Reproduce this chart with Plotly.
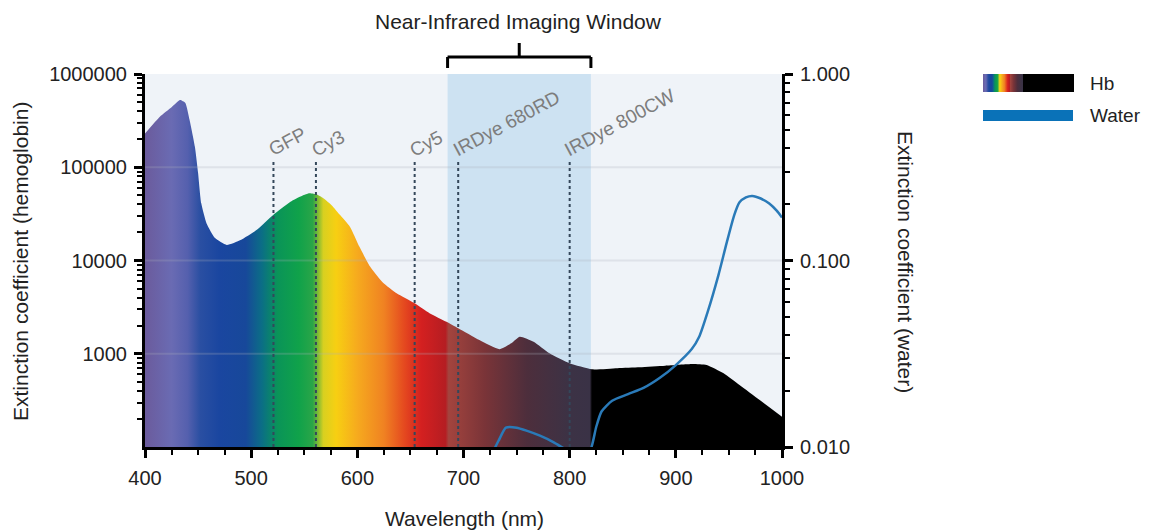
import plotly.graph_objects as go

# ---------------- data ----------------
hb_nm = [400, 414, 425, 433, 438, 442, 447, 450, 453, 458, 466, 477, 490, 505, 521,
         537, 548, 555, 562, 568, 576, 584, 593, 602, 612, 624, 637, 654, 668, 684,
         695, 715, 734, 745, 753, 766, 781, 800, 821, 845, 866, 890, 916, 929, 945,
         960, 979, 1000]
hb_val = [230000, 348000, 440000, 526000, 489000, 321000, 166000, 87000, 41000, 25000,
          17400, 14700, 16600, 21200, 31000, 42700, 49500, 52600, 51000, 46500, 39000,
          30500, 23000, 14000, 8600, 5800, 4450, 3470, 2720, 2200, 1875, 1400, 1117,
          1295, 1523, 1347, 1012, 789, 680, 700, 716, 745, 776, 757, 617, 462, 319, 211]

water_nm = [726, 733, 740, 750, 760, 772, 785, 795, 805, 815, 820, 825, 830, 840, 855,
            870, 885, 900, 915, 922, 930, 940, 948, 955, 960, 966, 972, 980, 988, 995, 1000]
water_val = [0.0090, 0.0108, 0.0127, 0.0127, 0.0122, 0.0115, 0.0106, 0.0098, 0.0092,
             0.0092, 0.0098, 0.0128, 0.0155, 0.0177, 0.0192, 0.0208, 0.0235, 0.0275,
             0.0335, 0.0390, 0.0530, 0.0830, 0.125, 0.175, 0.205, 0.218, 0.222, 0.215,
             0.202, 0.185, 0.170]

dye_names = ["GFP", "Cy3", "Cy5", "IRDye 680RD", "IRDye 800CW"]
dye_nm = [521, 561, 654, 695, 800]
dye_line_top = 115000

window_nm = [685, 820]
window_title = "Near-Infrared Imaging Window"

x_ticks = [400, 500, 600, 700, 800, 900, 1000]
y_ticks = [1000, 10000, 100000, 1000000]
y_ticklabels = ["1000", "10000", "100000", "1000000"]
y2_ticks = [0.01, 0.1, 1.0]
y2_ticklabels = ["0.010", "0.100", "1.000"]
grid_vals = [1000, 10000, 100000]

# spectrum colours along wavelength
spec_nm = [400, 425, 440, 452, 470, 495, 510, 525, 545, 558, 568, 580, 600, 625, 645,
           660, 683, 686, 720, 760, 800, 819, 821, 1000]
spec_col = ["#6b5b9c", "#6a6bb3", "#5560ae", "#2a4fa2", "#1a46a0", "#17489a", "#0b6e86",
            "#0a9458", "#10a24a", "#2aa548", "#d8d020", "#f7cf12", "#f6aa1e", "#f08222",
            "#e4471f", "#d42020", "#b51d22", "#a3443e", "#7a3438", "#4d2e3c", "#3c3245",
            "#3a3246", "#000000", "#000000"]

FONT = "Liberation Sans, Arial, sans-serif"
TXT = "#222222"

scale = [[(n - 400) / 600, c] for n, c in zip(spec_nm, spec_col)]

# page offset (body margin) compensation; reference pixel coords used below
OFF = 8
W, H = 1149 - OFF, 531 - OFF
L, T = 145 - OFF, 74 - OFF
R = W - (1075 - OFF)
B = H - (447 - OFF)
PW = W - L - R
PH = H - T - B
def px(x):
    return (x - OFF - L) / PW
def py(y):
    return (H - B - (y - OFF)) / PH

fig = go.Figure()

# Hb filled curve
fig.add_trace(go.Scatter(
    x=hb_nm, y=hb_val, mode="lines", line=dict(width=0, shape="spline", smoothing=0.5),
    fill="tozeroy", fillgradient=dict(type="horizontal", colorscale=scale, start=400, stop=1000),
    hoverinfo="skip", showlegend=False, xaxis="x", yaxis="y"))

# gridlines over the fill
for g in grid_vals:
    fig.add_trace(go.Scatter(x=[400, 1000], y=[g, g], mode="lines",
                             line=dict(color="rgba(170,176,186,0.25)", width=2),
                             hoverinfo="skip", showlegend=False))

# dye dotted lines
for n in dye_nm:
    fig.add_trace(go.Scatter(x=[n, n], y=[100, dye_line_top], mode="lines",
                             line=dict(color="#34475a", width=2, dash="dot"),
                             hoverinfo="skip", showlegend=False))

# water curve
fig.add_trace(go.Scatter(x=water_nm, y=water_val, mode="lines",
                         line=dict(color="#2a7ab8", width=2.5, shape="spline", smoothing=0.6),
                         hoverinfo="skip", showlegend=False, xaxis="x", yaxis="y2"))

# legend swatch (gradient) on its own small axes
fig.add_trace(go.Scatter(x=[400, 1355, 1355, 400, 400], y=[0, 0, 1, 1, 0], mode="lines",
                         line=dict(width=0), fill="toself",
                         fillgradient=dict(type="horizontal", colorscale=scale, start=400, stop=1000),
                         hoverinfo="skip", showlegend=False, xaxis="x3", yaxis="y3"))

minor_y = [m * 10 ** e for e in range(2, 6) for m in range(2, 10)]
minor_y2 = [m * 10 ** e for e in range(-2, 0) for m in range(2, 10)]

axis_common = dict(showline=True, linewidth=3, linecolor="black", ticks="outside",
                   ticklen=8, tickwidth=3, tickcolor="black", showgrid=False, zeroline=False,
                   automargin=False, ticklabelstandoff=3,
                   tickfont=dict(family=FONT, size=20, color=TXT))

shapes = [
    # imaging window
    dict(type="rect", xref="x", yref="paper", x0=window_nm[0], x1=window_nm[1], y0=0, y1=1,
         fillcolor="#cde2f2", line=dict(width=0), layer="below"),
    # bracket
    dict(type="line", xref="x", yref="paper", x0=window_nm[0], x1=window_nm[1],
         y0=py(57), y1=py(57), line=dict(color="black", width=3)),
    dict(type="line", xref="x", yref="paper", x0=window_nm[0], x1=window_nm[0],
         y0=py(57), y1=py(68), line=dict(color="black", width=3)),
    dict(type="line", xref="x", yref="paper", x0=window_nm[1], x1=window_nm[1],
         y0=py(57), y1=py(68), line=dict(color="black", width=3)),
    dict(type="line", xref="x", yref="paper", x0=sum(window_nm) / 2, x1=sum(window_nm) / 2,
         y0=py(57), y1=py(43), line=dict(color="black", width=3)),
    # water legend swatch
    dict(type="rect", xref="paper", yref="paper", x0=px(983), x1=px(1073), y0=py(121), y1=py(110),
         fillcolor="#0a72b8", line=dict(width=0)),
]

def ann(text, x, y, size=21, **kw):
    d = dict(text=text, x=x, y=y, xref="paper", yref="paper", showarrow=False,
             xanchor="center", yanchor="middle", font=dict(family=FONT, size=size, color=TXT))
    d.update(kw)
    return d

annotations = [
    ann(window_title, px(518), py(22)),
    ann("Wavelength (nm)", px(464), py(519)),
    ann("Extinction coefficient (hemoglobin)", px(20), py(262), textangle=-90),
    ann("Extinction coefficient (water)", px(906), py(262), textangle=90),
    ann("Hb", px(1088), py(83), size=19, xanchor="left"),
    ann("Water", px(1088), py(116), size=19, xanchor="left"),
]
for name, n in zip(dye_names, dye_nm):
    annotations.append(dict(text=name, x=n, xref="x", y=py(163), yref="paper",
                            xanchor="left", yanchor="bottom", xshift=-11, textangle=-28,
                            showarrow=False, font=dict(family=FONT, size=19, color="#7d7d7d")))

fig.update_layout(
    width=W, height=H,
    margin=dict(l=L, r=R, t=T, b=B, autoexpand=False),
    paper_bgcolor="white", plot_bgcolor="#eff3f8",
    font=dict(family=FONT, color=TXT),
    xaxis=dict(range=[400, 1000], domain=[0, px(782)], tickvals=x_ticks,
               minor=dict(ticks="outside", ticklen=5, tickwidth=2, tickcolor="black", dtick=25,
                          showgrid=False),
               anchor="y", **axis_common),
    yaxis=dict(type="log", range=[2, 6], tickvals=y_ticks, ticktext=y_ticklabels,
               minor=dict(ticks="outside", ticklen=5, tickwidth=2, tickcolor="black",
                          tickvals=minor_y, showgrid=False),
               anchor="x", **axis_common),
    yaxis2=dict(type="log", range=[-2, 0], tickvals=y2_ticks, ticktext=y2_ticklabels,
                minor=dict(ticks="outside", ticklen=5, tickwidth=2, tickcolor="black",
                           tickvals=minor_y2, showgrid=False),
                overlaying="y", side="right", anchor="x", **axis_common),
    xaxis3=dict(domain=[px(983), px(1074)], range=[400, 1355], visible=False, anchor="y3",
                fixedrange=True),
    yaxis3=dict(domain=[py(92), py(74)], range=[0, 1], visible=False, anchor="x3",
                fixedrange=True),
    shapes=shapes, annotations=annotations,
)

fig.write_html("out.html")
